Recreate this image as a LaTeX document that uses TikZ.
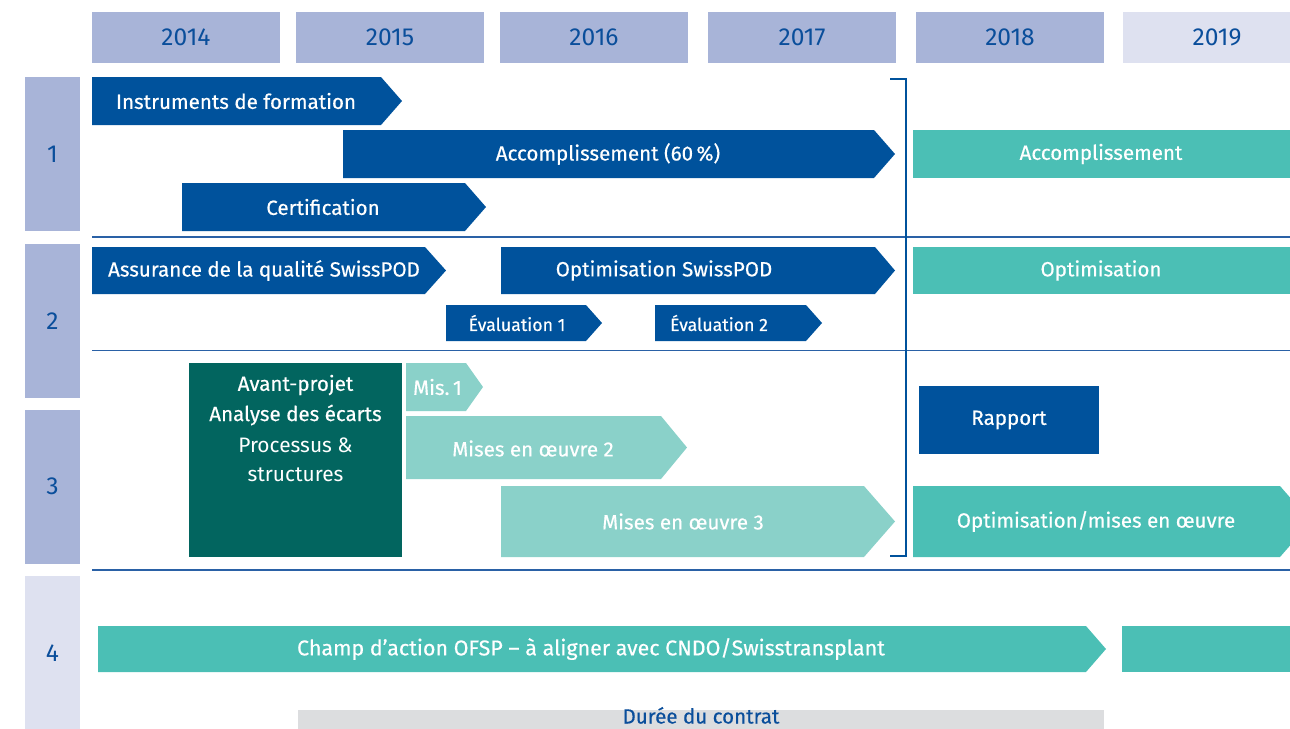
\documentclass[tikz,border=0pt]{standalone}
\usepackage{fontspec}
\setmainfont{Fira Sans}
\newfontfamily\medfont{Fira Sans}[FakeBold=0.4]
\definecolor{dblue}{HTML}{00529C}
\definecolor{hdr}{HTML}{A8B4D8}
\definecolor{hdrl}{HTML}{DEE1F0}
\definecolor{tealA}{HTML}{4BBFB5}
\definecolor{lteal}{HTML}{8AD1C9}
\definecolor{dteal}{HTML}{02655F}
\definecolor{lineblue}{HTML}{2A61A6}
\definecolor{grayb}{HTML}{DCDDDF}
\definecolor{txtblue}{HTML}{0A4E9B}
\newcommand\chev[6]{\fill[#6] (#1,#2) -- (#3,#2) -- (#4,{(#2+#5)/2}) -- (#3,#5) -- (#1,#5) -- cycle;}
\newcommand\barrect[5]{\fill[#5] (#1,#2) rectangle (#3,#4);}
\begin{document}
\begin{tikzpicture}[x=0.2mm,y=-0.2mm,
  every node/.style={inner sep=0pt, outer sep=0pt},
  yearbox/.style={fill=hdr, minimum width=37.6mm, minimum height=10.2mm, text=txtblue, font=\fontsize{14}{16}\selectfont},
  secbox/.style={fill=hdr, minimum width=11mm, minimum height=30.8mm, text=txtblue, font=\fontsize{14}{16}\selectfont},
  lbl/.style={text=white, font=\medfont\fontsize{11.7}{14}\selectfont},
  llbl/.style={text=white, font=\fontsize{11.9}{14}\selectfont},
  slbl/.style={text=white, font=\medfont\fontsize{10.1}{12}\selectfont},
  sep/.style={draw=lineblue, line width=1.1pt},
]
\useasboundingbox (0,0) rectangle (1290,728);
\clip (0,0) rectangle (1290,728);
% year header
\node[yearbox] (y14) at (186,37.5) {2014};
\node[yearbox] (y15) at (390,37.5) {2015};
\node[yearbox] (y16) at (594,37.5) {2016};
\node[yearbox] (y17) at (802,37.5) {2017};
\node[yearbox] (y18) at (1010,37.5) {2018};
\node[yearbox, fill=hdrl] (y19) at (1217,37.5) {2019};
% section boxes
\node[secbox] (s1) at (52.5,154) {1};
\node[secbox] (s2) at (52.5,321) {2};
\node[secbox] (s3) at (52.5,486.5) {3};
\node[secbox, fill=hdrl] (s4) at (52.5,653) {4};
% separators
\draw[sep] (92,237) -- (1290,237);
\draw[sep] (92,350.5) -- (1290,350.5);
\draw[sep] (92,570) -- (1290,570);
% bracket
\draw[dblue, line width=1.3pt] (890,79) -- (906,79) -- (906,556) -- (890,556);
% row 1
\chev{92}{77}{381}{402}{125}{dblue}
\node[lbl] (n1) at (236,101) {Instruments de formation};
\chev{343}{130}{874}{895}{178}{dblue}
\node[lbl] (n2) at (608,154) {Accomplissement (60\,\%)};
\chev{182}{183}{465}{486}{231}{dblue}
\node[lbl] (n3) at (323,207) {Certification};
\barrect{913}{130}{1300}{178}{tealA}
\node[lbl] (n4) at (1101,154) {Accomplissement};
% row 2
\chev{92}{247}{425}{446}{294}{dblue}
\node[lbl] (n5) at (264,270.5) {Assurance de la qualité SwissPOD};
\chev{501}{247}{875}{895}{294}{dblue}
\node[lbl] (n6) at (664,270.5) {Optimisation SwissPOD};
\barrect{913}{247}{1300}{294}{tealA}
\node[lbl] (n7) at (1101,270.5) {Optimisation};
\chev{446}{305}{586}{602}{341}{dblue}
\node[slbl] (n8) at (517,323) {Évaluation 1};
\chev{655}{305}{806}{822}{341}{dblue}
\node[slbl] (n9) at (719,323) {Évaluation 2};
% row 3
\node[fill=dteal, minimum width=42.6mm, minimum height=38.8mm] (ap) at (295.5,460) {};
\node[lbl] (ap1) at (295.5,385) {Avant-projet};
\node[lbl] (ap2) at (295.5,415) {Analyse des écarts};
\node[llbl] (ap3) at (295.5,445) {Processus \&};
\node[llbl] (ap4) at (295.5,475) {structures};
\chev{406}{363}{466}{483}{411}{lteal}
\node[lbl] (n10) at (437.5,387) {Mis.\,1};
\chev{406}{416}{661}{687}{479}{lteal}
\node[lbl] (n11) at (533,448.5) {Mises en œuvre 2};
\chev{501}{486}{864}{895}{557}{lteal}
\node[lbl] (n12) at (683,521.5) {Mises en œuvre 3};
\node[fill=dblue, minimum width=36mm, minimum height=13.6mm, lbl] (rap) at (1009,420) {Rapport};
\chev{913}{486}{1280}{1311}{557}{tealA}
\node[lbl] (n13) at (1096,521.5) {Optimisation/mises en œuvre};
% row 4
\chev{98}{626}{1086}{1106}{672}{tealA}
\node[llbl, font=\medfont\fontsize{12.2}{14}\selectfont] (n14) at (591,649) {Champ d’action OFSP – à aligner avec CNDO/Swisstransplant};
\barrect{1122}{626}{1300}{672}{tealA}
\node[fill=grayb, minimum width=161.2mm, minimum height=8mm] (dur) at (701,730) {};
\node[text=txtblue, font=\medfont\fontsize{11.7}{14}\selectfont, anchor=base] (durt) at (701,723.5) {Durée du contrat};
\end{tikzpicture}
\end{document}
